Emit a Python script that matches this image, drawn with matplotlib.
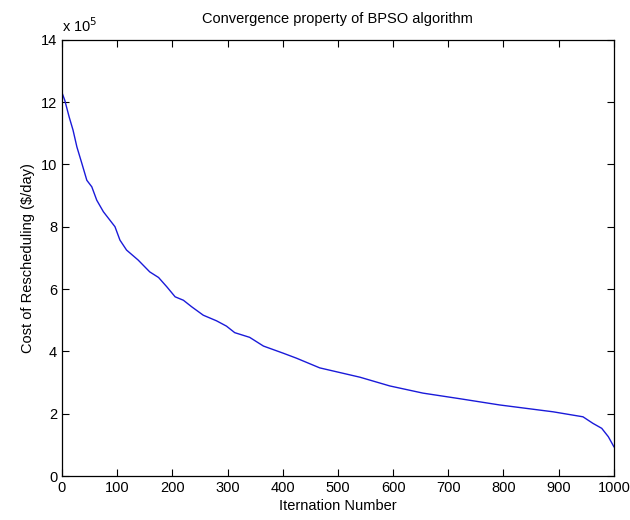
import numpy as np
import matplotlib.pyplot as plt
from matplotlib.ticker import FuncFormatter

plt.rcParams['font.family'] = ['Liberation Sans', 'DejaVu Sans']

# ------------------- DATEN -------------------
iteration = [0, 5, 13, 20, 27, 36, 45, 54, 63, 75, 96, 105, 117, 138, 159, 175,
             190, 205, 220, 235, 256, 280, 298, 313, 340, 365, 401, 425, 467,
             540, 594, 654, 721, 793, 890, 944, 962, 978, 990, 1000]
kosten = [12.3, 12.06, 11.52, 11.10, 10.56, 10.03, 9.49, 9.28, 8.85, 8.48, 8.0,
          7.57, 7.25, 6.93, 6.55, 6.37, 6.07, 5.75, 5.64, 5.43, 5.16, 4.98,
          4.81, 4.60, 4.45, 4.17, 3.94, 3.78, 3.47, 3.17, 2.89, 2.66, 2.48,
          2.28, 2.06, 1.90, 1.69, 1.53, 1.26, 0.94]
kosten = np.array(kosten) * 1e5

x_ticks = np.arange(0, 1001, 100)
y_ticks = np.arange(0, 14.1, 2) * 1e5

# ------------------- PLOTTEN -------------------
fig = plt.figure(figsize=(6.3, 5.2), dpi=100)
ax = fig.add_axes([0.0984, 0.0846, 0.876, 0.839])
ax.plot(iteration, kosten, color=(0.1, 0.1, 0.85), linewidth=1.0)

ax.set_xlim(0, 1000)
ax.set_ylim(0, 14e5)
ax.set_xticks(x_ticks)
ax.set_yticks(y_ticks)
ax.yaxis.set_major_formatter(FuncFormatter(lambda v, p: f"{v / 1e5:g}"))
ax.tick_params(direction='in', top=True, right=True, labelsize=10.5, length=5)
for s in ax.spines.values():
    s.set_linewidth(0.9)

ax.text(0.0, 1.01, r"x 10$^5$", transform=ax.transAxes, fontsize=10.5,
        ha='left', va='bottom')
ax.set_title("Convergence property of BPSO algorithm", fontsize=10.5, pad=12)
ax.set_xlabel("Iternation Number", fontsize=10.5, labelpad=3)
ax.set_ylabel("Cost of Rescheduling ($/day)", fontsize=10.5, labelpad=4)

fig.savefig("out.png", dpi=100)
